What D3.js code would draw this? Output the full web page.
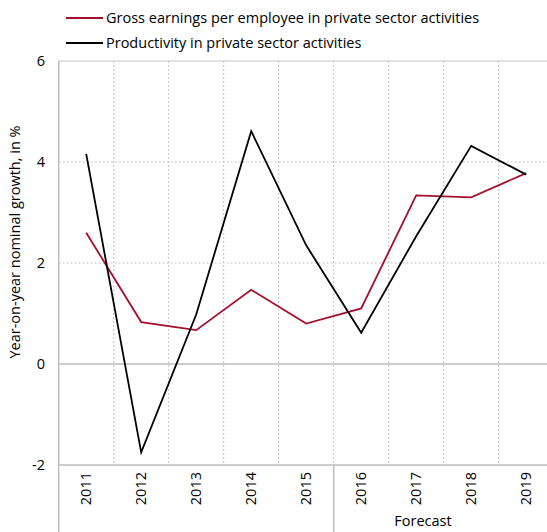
<!DOCTYPE html>
<html>
<head>
<meta charset="utf-8">
<script src="https://cdn.jsdelivr.net/npm/d3@7"></script>
<style>
    body { margin: 0; background: #fff; }
    text { font-family: "Open Sans", "Noto Sans", sans-serif; fill: #000; }
</style>
</head>
<body>
<div id="chart"></div>
<script>
'use strict';

// chart values
const years = ['2011', '2012', '2013', '2014', '2015', '2016', '2017', '2018', '2019'];
const earnings = [2.60, 0.83, 0.67, 1.47, 0.80, 1.10, 3.34, 3.30, 3.78];
const productivity = [4.16, -1.75, 0.98, 4.61, 2.35, 0.62, 2.53, 4.32, 3.75];
const yTicks = [-2, 0, 2, 4, 6];
const forecastFrom = '2016';

const seriesNames = ['Gross earnings per employee in private sector activities', 'Productivity in private sector activities'];

const width = 547, height = 532;
const margin = {top: 61, left: 58.7, bottom: 67};
const plotRight = 553.7;
const plotBottom = height - margin.bottom;

const svg = d3.select('#chart').append('svg')
    .attr('width', width)
    .attr('height', height);

let x = d3.scaleBand().domain(years).range([margin.left, plotRight]);
let y = d3.scaleLinear().domain([-2, 6]).range([plotBottom, margin.top]);

// horizontal grid
svg.append('g').selectAll('line')
    .data(yTicks.filter(function (d) { return d !== 0 && d !== -2; }))
    .enter().append('line')
    .attr('x1', margin.left).attr('x2', plotRight)
    .attr('y1', function (d) { return y(d); })
    .attr('y2', function (d) { return y(d); })
    .style('stroke', '#c4c4c4')
    .style('stroke-width', 1)
    .style('stroke-dasharray', function (d) { return d === 6 ? null : '2,2'; });

// vertical grid between categories
svg.append('g').selectAll('line')
    .data(years.slice(1))
    .enter().append('line')
    .attr('x1', function (d) { return x(d); })
    .attr('x2', function (d) { return x(d); })
    .attr('y1', margin.top).attr('y2', plotBottom)
    .style('stroke', '#c4c4c4')
    .style('stroke-width', 1)
    .style('stroke-dasharray', '2,2');

// zero line and bottom axis
[0, -2].forEach(function (v) {
    svg.append('line')
        .attr('x1', margin.left).attr('x2', plotRight)
        .attr('y1', y(v)).attr('y2', y(v))
        .style('stroke', '#bdbdbd')
        .style('stroke-width', 1.5);
});

// left axis line runs down to the bottom
svg.append('line')
    .attr('x1', margin.left).attr('x2', margin.left)
    .attr('y1', margin.top).attr('y2', height)
    .style('stroke', '#bdbdbd')
    .style('stroke-width', 1.5);

// forecast separator
svg.append('line')
    .attr('x1', x(forecastFrom)).attr('x2', x(forecastFrom))
    .attr('y1', plotBottom).attr('y2', height)
    .style('stroke', '#bdbdbd')
    .style('stroke-width', 1.5);

svg.append('text')
    .attr('x', 423)
    .attr('y', 526)
    .style('text-anchor', 'middle')
    .style('font-size', '14.5px')
    .text('Forecast');

// y tick labels
svg.append('g').selectAll('text')
    .data(yTicks)
    .enter().append('text')
    .attr('x', 45)
    .attr('y', function (d) { return y(d) + 5; })
    .style('text-anchor', 'end')
    .style('font-size', '14.5px')
    .text(function (d) { return d; });

// y axis title
svg.append('text')
    .attr('transform', 'translate(20,242) rotate(-90)')
    .style('text-anchor', 'middle')
    .style('font-size', '14.5px')
    .text('Year-on-year nominal growth, in %');

// x labels, rotated
svg.append('g').selectAll('text')
    .data(years)
    .enter().append('text')
    .attr('transform', function (d) {
        return 'translate(' + (x(d) + x.bandwidth() / 2 + 5) + ',' + (plotBottom + 7) + ') rotate(-90)';
    })
    .style('text-anchor', 'end')
    .style('font-size', '14.5px')
    .text(function (d) { return d; });

// lines
let valueLine = d3.line()
    .x(function (d, idx) { return x(years[idx]) + x.bandwidth() / 2; })
    .y(function (d) { return y(d); });

const lineData = [
    {values: earnings, color: '#a50f2d'},
    {values: productivity, color: '#000000'}
];

svg.append('g').selectAll('path')
    .data(lineData)
    .enter().append('path')
    .attr('d', function (l) { return valueLine(l.values); })
    .style('fill', 'none')
    .style('stroke', function (l) { return l.color; })
    .style('stroke-width', 1.8);

// legend
let legend = svg.append('g').selectAll('g')
    .data(lineData)
    .enter().append('g')
    .attr('transform', function (l, i) { return 'translate(66,' + (18 + i * 25) + ')'; });

legend.append('line')
    .attr('x1', 0).attr('x2', 37)
    .style('stroke', function (l) { return l.color; })
    .style('stroke-width', 1.8);

legend.append('text')
    .attr('x', 40)
    .attr('y', 5)
    .style('font-size', '14.5px')
    .text(function (l, i) { return seriesNames[i]; });
</script>
</body>
</html>
